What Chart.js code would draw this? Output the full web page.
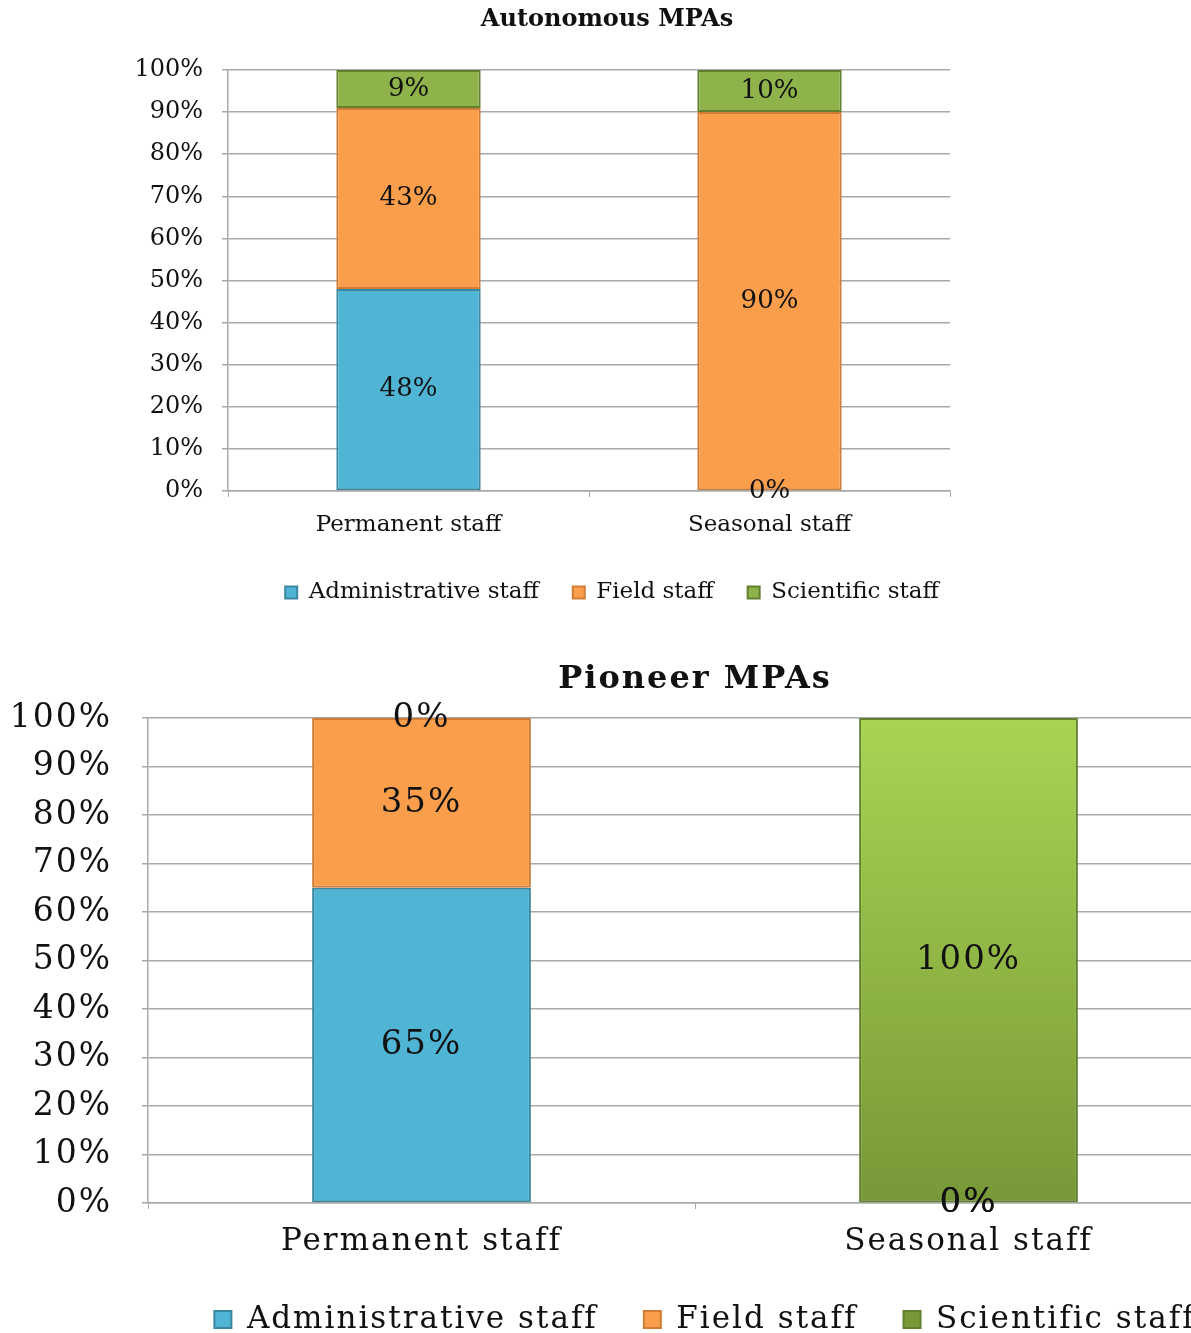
<!DOCTYPE html>
<html>
<head>
<meta charset="utf-8">
<script src="https://cdn.jsdelivr.net/npm/chart.js@4.4.1/dist/chart.umd.min.js"></script>
<style>
html, body { margin: 0; padding: 0; background: #fff; overflow: hidden; width: 1191px; height: 1333px; }
canvas { display: block; }
</style>
</head>
<body>
<canvas id="chartTop" width="1224" height="614"></canvas>
<canvas id="chartBottom" width="1410" height="731"></canvas>
<script>
// values (percent of staff)
const categories = ['Permanent staff', 'Seasonal staff'];
const seriesNames = ['Administrative staff', 'Field staff', 'Scientific staff'];
const autonomousAdmin = [48, 0];
const autonomousField = [43, 90];
const autonomousScientific = [9, 10];
const pioneerAdmin = [65, 0];
const pioneerField = [35, 0];
const pioneerScientific = [0, 100];
const yMax = 100;
const yStep = 10;

const gridColor = '#a9a9a9';
const textColor = '#111';

// spacing between letters, the second chart has stretched text
const spacingPlugin = {
    id: 'spacing',
    beforeUpdate(chart) { chart.ctx.letterSpacing = (chart.options.plugins.spacing.px || 0) + 'px'; },
    beforeDraw(chart) { chart.ctx.letterSpacing = (chart.options.plugins.spacing.px || 0) + 'px'; }
};

// title drawn by hand so it can sit where the original had it
const titlePlugin = {
    id: 'ownTitle',
    afterDraw(chart) {
        const o = chart.options.plugins.ownTitle;
        const ctx = chart.ctx;
        ctx.save();
        ctx.font = 'bold ' + o.size + 'px "DejaVu Serif"';
        ctx.fillStyle = textColor;
        ctx.textAlign = 'center';
        ctx.textBaseline = 'middle';
        ctx.fillText(o.text, o.x, o.y);
        ctx.restore();
    }
};

// percent labels in the middle of each segment
const labelPlugin = {
    id: 'barLabels',
    afterDatasetsDraw(chart) {
        const o = chart.options.plugins.barLabels;
        const ctx = chart.ctx;
        ctx.save();
        ctx.font = o.size + 'px "DejaVu Serif"';
        ctx.fillStyle = textColor;
        ctx.textAlign = 'center';
        ctx.textBaseline = 'middle';
        chart.data.datasets.forEach(function(ds, i) {
            const meta = chart.getDatasetMeta(i);
            meta.data.forEach(function(bar, j) {
                const v = ds.data[j];
                let y = v === 0 ? bar.base : (bar.y + bar.base) / 2;
                ctx.fillText(v + '%', bar.x, y);
            });
        });
        ctx.restore();
    }
};

function greenGradient(context) {
    const chart = context.chart;
    const area = chart.chartArea;
    if (!area) return '#9bbb59';
    const g = chart.ctx.createLinearGradient(0, area.top, 0, area.bottom);
    g.addColorStop(0, '#a8d452');
    g.addColorStop(1, '#789838');
    return g;
}

function makeChart(id, sets, s) {
    const ctx = document.getElementById(id);
    const datasets = [
        { label: seriesNames[0], data: sets[0], backgroundColor: '#50b5d4', borderColor: '#3a879f' },
        { label: seriesNames[1], data: sets[1], backgroundColor: '#fa9e4c', borderColor: '#cf7d37' },
        { label: seriesNames[2], data: sets[2], backgroundColor: s.green, borderColor: '#637f30' }
    ];
    datasets.forEach(function(d) {
        d.borderWidth = 2;
        d.borderSkipped = false;
        d.barPercentage = 0.4;
        d.categoryPercentage = 1;
    });
    return new Chart(ctx, {
        type: 'bar',
        data: { labels: categories, datasets: datasets },
        plugins: [spacingPlugin, titlePlugin, labelPlugin],
        options: {
            responsive: false,
            animation: false,
            layout: { padding: { left: 0, right: 0, top: s.top, bottom: 0 } },
            plugins: {
                spacing: { px: s.spacing },
                ownTitle: { text: s.title, size: s.titleSize, x: s.titleX, y: s.titleY },
                barLabels: { size: s.labelSize },
                title: { display: false },
                tooltip: { enabled: false },
                legend: {
                    position: 'bottom',
                    labels: {
                        color: textColor,
                        font: { family: 'DejaVu Serif', size: s.font },
                        boxWidth: s.box,
                        boxHeight: s.box,
                        padding: s.legendPad
                    }
                }
            },
            scales: {
                x: {
                    stacked: true,
                    grid: { display: true, drawOnChartArea: false, drawTicks: true, tickLength: 6, color: gridColor, offset: true },
                    border: { display: true, color: gridColor, width: 1.5 },
                    ticks: { color: textColor, padding: 14, font: { family: 'DejaVu Serif', size: s.font }, maxRotation: 0 },
                    afterFit: function(scale) { scale.height = s.xHeight; }
                },
                y: {
                    stacked: true,
                    min: 0,
                    max: yMax,
                    grid: { color: gridColor, lineWidth: 1.5, tickLength: 6 },
                    border: { display: true, color: gridColor, width: 1.5 },
                    ticks: {
                        stepSize: yStep,
                        color: textColor,
                        padding: s.yPad,
                        font: { family: 'DejaVu Serif', size: s.tickSize },
                        callback: function(v) { return v + '%'; }
                    },
                    afterFit: function(scale) { scale.width = s.left; }
                },
                spare: {
                    type: 'linear',
                    position: 'right',
                    grid: { display: false, drawTicks: false },
                    border: { display: false },
                    ticks: { display: false },
                    afterFit: function(scale) { scale.width = s.rightGap; }
                }
            }
        }
    });
}

makeChart('chartTop', [autonomousAdmin, autonomousField, autonomousScientific], {
    title: 'Autonomous MPAs', titleSize: 24, titleX: 607, titleY: 20,
    top: 70, left: 228, rightGap: 1224 - 950, xHeight: 56,
    font: 23, tickSize: 24, labelSize: 26, box: 12, legendPad: 34, yPad: 19,
    spacing: 0, green: '#8db34a'
});

makeChart('chartBottom', [pioneerAdmin, pioneerField, pioneerScientific], {
    title: 'Pioneer MPAs', titleSize: 32, titleX: 695, titleY: 66,
    top: 104, left: 148, rightGap: 1410 - 1242, xHeight: 55,
    font: 31, tickSize: 33, labelSize: 34, box: 17, legendPad: 46, yPad: 30,
    spacing: 2, green: greenGradient
});
</script>
</body>
</html>
